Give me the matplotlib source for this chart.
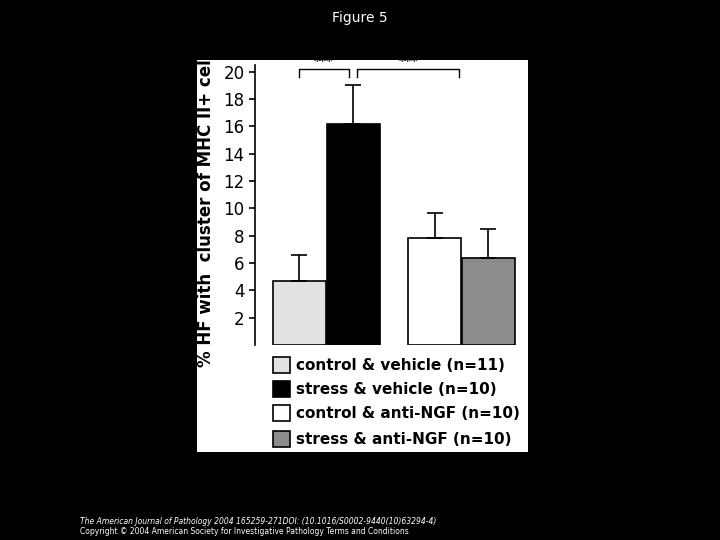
import matplotlib
matplotlib.use("Agg")
import matplotlib.pyplot as plt
from matplotlib.patches import Rectangle

labels = ["control & vehicle (n=11)", "stress & vehicle (n=10)",
          "control & anti-NGF (n=10)", "stress & anti-NGF (n=10)"]
values = [4.7, 16.2, 7.8, 6.4]
errors = [1.9, 2.8, 1.9, 2.1]
colors = ["#e2e2e2", "#000000", "#ffffff", "#8c8c8c"]
positions = [0.815, 1.815, 3.32, 4.31]
yticks = [2, 4, 6, 8, 10, 12, 14, 16, 18, 20]

W, H = 720, 540
fig = plt.figure(figsize=(7.2, 5.4), dpi=100, facecolor="black")
bg = Rectangle((197/W, 1-452/H), (528-197)/W, (452-60)/H,
               transform=fig.transFigure, facecolor="white", edgecolor="none", zorder=-10)
fig.add_artist(bg)

ax = fig.add_axes([255/W, 1-345/H, (520-255)/W, (345-65)/H])
ax.set_zorder(5)
ax.set_facecolor("none")
ax.bar(positions, values, width=0.98, color=colors, edgecolor="black", linewidth=1.2, zorder=2)
ax.errorbar(positions, values, yerr=[[0]*4, errors], fmt="none", ecolor="black",
            elinewidth=1.2, capsize=6, capthick=1.2, zorder=3)
ax.set_xlim(0, 4.9)
ax.set_ylim(0, 20.5)
ax.set_yticks(yticks)
ax.set_yticklabels([str(t) for t in yticks], fontsize=12)
ax.set_xticks([])
for s in ["top", "right", "bottom"]:
    ax.spines[s].set_visible(False)
ax.spines["left"].set_linewidth(1.2)
ax.tick_params(axis="y", length=4, width=1.2)
ax.set_ylabel("% HF with  cluster of MHC II+ cells", fontsize=12, fontweight="bold", labelpad=6)

def bracket(x1, x2, y, text):
    ax.plot([x1, x1, x2, x2], [y-0.6, y, y, y-0.6], color="black", lw=1, clip_on=False)
    ax.text((x1+x2)/2, y+0.1, text, ha="center", va="bottom", fontsize=9, fontweight="bold")
bracket(positions[0], positions[1]-0.08, 20.2, "***")
bracket(positions[1]+0.08, 3.78, 20.2, "***")

rows = [365, 389, 413, 439]
for lab, col, yy in zip(labels, colors, rows):
    fig.add_artist(Rectangle((273/W, 1-(yy+8)/H), 17/W, 16/H, transform=fig.transFigure,
                             facecolor=col, edgecolor="black", linewidth=1.2, zorder=2))
    fig.text(296/W, 1-yy/H, lab, fontsize=11, fontweight="bold", va="center", ha="left")

fig.text(0.5, 1-18/H, "Figure 5", color="white", fontsize=10, ha="center", va="center")
fig.text(80/W, 1-521/H, "The American Journal of Pathology 2004 165259-271DOI: (10.1016/S0002-9440(10)63294-4)",
         color="white", fontsize=5.5, style="italic", va="center")
fig.text(80/W, 1-532/H, "Copyright © 2004 American Society for Investigative Pathology Terms and Conditions",
         color="white", fontsize=5.5, va="center")

fig.savefig("out.png", dpi=100, facecolor="black")
